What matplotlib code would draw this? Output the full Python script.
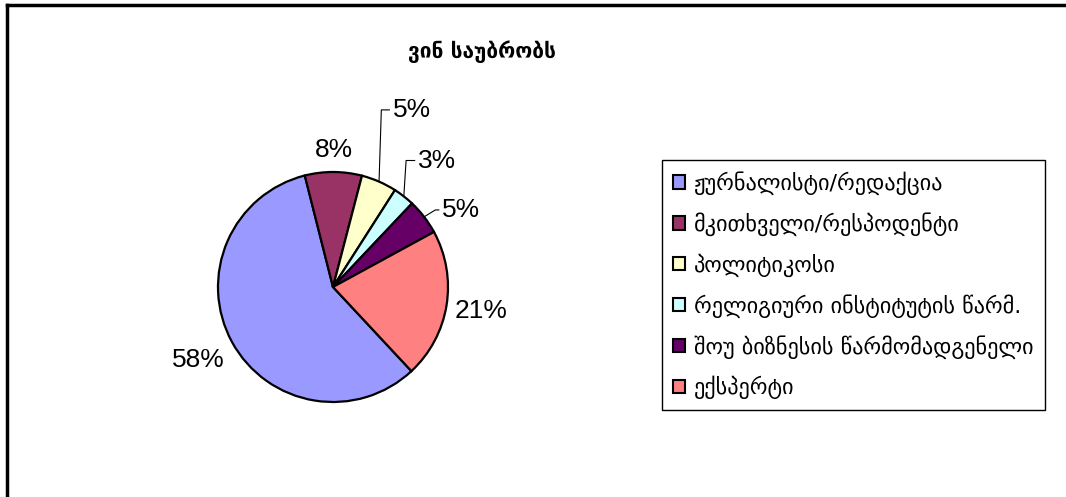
import matplotlib.pyplot as plt
import numpy as np
from matplotlib.lines import Line2D
from matplotlib.patches import Patch

title = 'ვინ საუბრობს'
categories = ['ჟურნალისტი/რედაქცია', 'მკითხველი/რესპოდენტი', 'პოლიტიკოსი',
              'რელიგიური ინსტიტუტის წარმ.', 'შოუ ბიზნესის წარმომადგენელი', 'ექსპერტი']
shares = [58, 8, 5, 3, 5, 21]
pct_labels = ['58%', '8%', '5%', '3%', '5%', '21%']

colors = ['#9999FF', '#993366', '#FFFFCC', '#CCFFFF', '#660066', '#FF8080']

W, H = 1066, 497
fig = plt.figure(figsize=(W / 100, H / 100), dpi=100)

# pie axes: centre (333, 287) px, radius 115 px
cx, cy, r = 333, 287, 115
ax = fig.add_axes([(cx - r) / W, (H - cy - r) / H, 2 * r / W, 2 * r / H])
wedges, _ = ax.pie(shares, colors=colors, startangle=-47, counterclock=False,
                   wedgeprops=dict(edgecolor='black', linewidth=1.6))
ax.set_xlim(-1, 1)
ax.set_ylim(-1, 1)
ax.set_aspect('equal')

# label layout: (mode, radius or (dx, dy) offset of text)
layout = [('plain', 1.33), ('plain', 1.19), ('leader', (0.52, 1.54)),
          ('leader', (0.74, 1.10)), ('leader', (0.95, 0.67)), ('plain', 1.30)]
for w, lab, (mode, pos) in zip(wedges, pct_labels, layout):
    mid = np.deg2rad((w.theta1 + w.theta2) / 2)
    ex, ey = np.cos(mid), np.sin(mid)
    if mode == 'plain':
        ax.text(pos * ex, pos * ey, lab, ha='center', va='center',
                fontsize=19, family='Liberation Sans', clip_on=False)
    else:
        tx, ty = pos
        elbow = ex + 0.02 if ty > 0.8 else tx - 0.06
        ax.plot([ex, elbow, tx - 0.03], [ey, ty, ty], color='black', lw=0.8,
                clip_on=False)
        ax.text(tx, ty, lab, ha='left', va='center', fontsize=19,
                family='Liberation Sans', clip_on=False)

fig.text(482 / W, 1 - 52 / H, title, ha='center', va='center', fontsize=15,
         fontweight='bold', family='DejaVu Sans')

handles = [Patch(facecolor=c, edgecolor='black', linewidth=1.5) for c in colors]
leg = fig.legend(handles, categories, loc='upper left',
                 bbox_to_anchor=(662 / W, 1 - 160 / H), fancybox=False,
                 edgecolor='black', framealpha=1, handlelength=0.55,
                 handleheight=0.55, handletextpad=0.4, labelspacing=0.78,
                 borderpad=0.5, borderaxespad=0,
                 prop=dict(family='DejaVu Sans', size=16))
leg.get_frame().set_linewidth(1.0)

# outer chart frame (left and top edges visible)
fig.add_artist(Line2D([7 / W, 7 / W], [0, 1 - 5 / H], color='black', lw=2.5,
                      transform=fig.transFigure))
fig.add_artist(Line2D([7 / W, 1], [1 - 5 / H, 1 - 5 / H], color='black', lw=2.5,
                      transform=fig.transFigure))

fig.savefig('out.png', dpi=100)
